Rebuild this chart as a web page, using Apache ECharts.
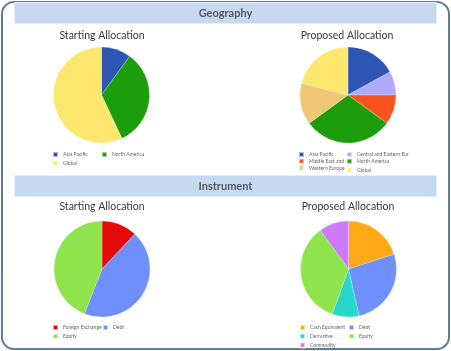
<!DOCTYPE html>
<html><head><meta charset="utf-8">
<script src="https://cdn.jsdelivr.net/npm/echarts@6/dist/echarts.min.js"></script>
<style>html,body{margin:0;padding:0;background:#fff}#c{width:451px;height:351px}</style>
</head><body><div id="c"></div>
<script>
// Geography
const geoStartNames = ['Asia Pacific', 'North America', 'Global'];
const geoStartValues = [10, 33, 57];
const geoPropNames = ['Asia Pacific', 'Central and Eastern Europe', 'Middle East and Africa', 'North America', 'Western Europe', 'Global'];
const geoPropValues = [17, 8, 10, 30, 14, 21];
// Instrument
const insStartNames = ['Foreign Exchange', 'Debt', 'Equity'];
const insStartValues = [12, 44, 44];
const insPropNames = ['Cash Equivalent', 'Debt', 'Derivative', 'Equity', 'Commodity'];
const insPropValues = [20, 26.5, 9, 34.5, 10];

const colorMap = {
  'Asia Pacific': '#2d55b4', 'North America': '#1c9e0c', 'Global': '#fde76c',
  'Central and Eastern Europe': '#aeabff', 'Middle East and Africa': '#fb5320', 'Western Europe': '#f0c772',
  'Foreign Exchange': '#e20a0a', 'Debt': '#6f8ffd', 'Equity': '#8fe34c',
  'Cash Equivalent': '#ffa916', 'Derivative': '#24d9cb', 'Commodity': '#cb7bfb'
};
const FONT = 'Lato';

function pie(names, values, cx, cy) {
  return {
    type: 'pie', center: [cx, cy], radius: 48, startAngle: 90, clockwise: true,
    label: { show: false }, labelLine: { show: false }, silent: true,
    itemStyle: { borderColor: 'rgba(255,255,255,0.6)', borderWidth: 0.4 },
    data: names.map((n, i) => ({ name: n, value: values[i], itemStyle: { color: colorMap[n] } }))
  };
}
function legendCol(names, left, top, w) {
  const ts = { fontSize: 5, color: '#666', fontFamily: FONT };
  if (w) { ts.width = w; ts.overflow = 'truncate'; ts.ellipsis = ''; }
  return {
    orient: 'vertical', left: left, top: top, data: names, itemWidth: 5, itemHeight: 5,
    itemGap: 1.7, padding: 0, selectedMode: false, icon: 'rect', textStyle: ts
  };
}
function titleAt(text, x, y) {
  return { text: text, left: x, top: y, textAlign: 'center',
    textStyle: { fontSize: 10.5, fontWeight: 'normal', color: '#3a3a3a', fontFamily: FONT }, padding: 0 };
}
function header(text, y) {
  return [
    { type: 'rect', shape: { x: 14.5, y: y, width: 422, height: 21 }, style: { fill: '#c6d9f1', stroke: '#e4eefa', lineWidth: 1 }, z: 0 },
    { type: 'text', x: 225.5, y: y + 10.5, style: { text: text, fill: '#555a60', fontSize: 11, fontWeight: 'bold', fontFamily: FONT, align: 'center', verticalAlign: 'middle' }, z: 1 }
  ];
}

const chart = echarts.init(document.getElementById('c'), null, { renderer: 'canvas' });
chart.setOption({
  backgroundColor: '#fff',
  animation: false,
  graphic: [
    { type: 'rect', shape: { x: 2, y: 2, width: 447, height: 347, r: 12 }, style: { fill: '#fff', stroke: '#5d7d98', lineWidth: 2 }, z: -1 },
    ...header('Geography', 2.5),
    ...header('Instrument', 175.5)
  ],
  title: [
    titleAt('Starting Allocation', 102, 30),
    titleAt('Proposed Allocation', 347, 30),
    titleAt('Starting Allocation', 102, 201),
    titleAt('Proposed Allocation', 348, 201)
  ],
  legend: [
    legendCol(['Asia Pacific', 'Global'], 52, 151),
    legendCol(['North America'], 101, 151),
    legendCol(['Asia Pacific'], 298, 151),
    legendCol(['Middle East and Africa'], 298, 157.7, 37),
    legendCol(['Western Europe'], 298, 164.4),
    legendCol(['Central and Eastern Europe'], 346, 151, 56),
    legendCol(['North America', 'Global'], 346, 157.7),
    legendCol(['Foreign Exchange', 'Equity'], 52, 324),
    legendCol(['Debt'], 102, 324),
    legendCol(['Cash Equivalent', 'Derivative', 'Commodity'], 299, 324),
    legendCol(['Debt', 'Equity'], 348, 324)
  ],
  series: [
    pie(geoStartNames, geoStartValues, 101.5, 95),
    pie(geoPropNames, geoPropValues, 348, 95),
    pie(insStartNames, insStartValues, 102, 269),
    pie(insPropNames, insPropValues, 348.5, 269)
  ]
});
</script></body></html>
